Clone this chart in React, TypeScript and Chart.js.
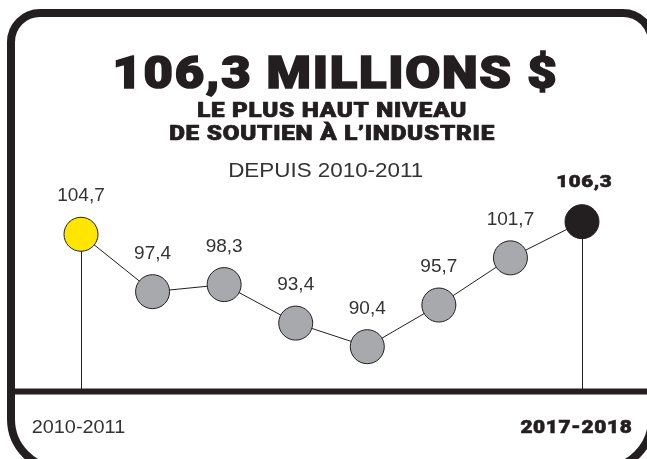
import React, { useEffect, useRef } from "react";
import { Chart, registerables } from "chart.js";

Chart.register(...registerables);

// ---- Data ----
const categories = [
  "2010-2011",
  "2011-2012",
  "2012-2013",
  "2013-2014",
  "2014-2015",
  "2015-2016",
  "2016-2017",
  "2017-2018",
];
const values = [104.7, 97.4, 98.3, 93.4, 90.4, 95.7, 101.7, 106.3];
const valueLabels = ["104,7", "97,4", "98,3", "93,4", "90,4", "95,7", "101,7", "106,3"];
const axisLabels = ["2010-2011", "2017-2018"];
const titleText = "106,3 MILLIONS $";
const subtitleLines = ["LE PLUS HAUT NIVEAU", "DE SOUTIEN À L’INDUSTRIE"];
const sinceText = "DEPUIS 2010-2011";
const yMin = 84.7;
const yMax = 120;

// ---- Styles ----
const INK = "#231f20";
const GRAY = "#a7a9ac";
const YELLOW = "#ffe500";
const HEAVY = "Roboto, 'Liberation Sans', sans-serif";
const REG = "'Liberation Sans', Arial, sans-serif";

function fitText(
  ctx: CanvasRenderingContext2D,
  text: string,
  x: number,
  y: number,
  font: string,
  width: number,
  align: CanvasTextAlign,
  color: string,
  boldStroke = 0,
  spacing = 0
) {
  ctx.save();
  ctx.font = font;
  (ctx as any).letterSpacing = `${spacing}px`;
  const w = ctx.measureText(text).width - spacing + boldStroke;
  const s = width / w;
  ctx.translate(x, y);
  ctx.scale(s, 1);
  ctx.textAlign = align;
  ctx.textBaseline = "alphabetic";
  ctx.fillStyle = color;
  const dx = align === "center" ? spacing / 2 : align === "right" ? spacing : 0;
  ctx.fillText(text, dx, 0);
  if (boldStroke > 0) {
    ctx.strokeStyle = color;
    ctx.lineWidth = boldStroke;
    ctx.lineJoin = "miter";
    ctx.strokeText(text, dx, 0);
  }
  ctx.restore();
}

function roundedFrame(ctx: CanvasRenderingContext2D) {
  const l = 11, t = 13, r = 652, b = 469;
  const rt = 29, rb = 50;
  ctx.save();
  ctx.beginPath();
  ctx.moveTo(l + rt, t);
  ctx.lineTo(r - rt, t);
  ctx.arcTo(r, t, r, t + rt, rt);
  ctx.lineTo(r, b - rb);
  ctx.arcTo(r, b, r - rb, b, rb);
  ctx.lineTo(l + rb, b);
  ctx.arcTo(l, b, l, b - rb, rb);
  ctx.lineTo(l, t + rt);
  ctx.arcTo(l, t, l + rt, t, rt);
  ctx.closePath();
  ctx.lineWidth = 8;
  ctx.strokeStyle = INK;
  ctx.stroke();
  ctx.restore();
}

const decoPlugin = {
  id: "deco",
  beforeDraw(chart: any) {
    const ctx = chart.ctx as CanvasRenderingContext2D;
    ctx.save();
    ctx.fillStyle = "#ffffff";
    ctx.fillRect(0, 0, chart.width, chart.height);
    ctx.restore();
  },
  beforeDatasetsDraw(chart: any) {
    const ctx = chart.ctx as CanvasRenderingContext2D;
    const meta = chart.getDatasetMeta(0);
    const yBase = chart.scales.y.getPixelForValue(yMin);
    ctx.save();
    ctx.strokeStyle = INK;
    ctx.lineWidth = 1;
    [0, values.length - 1].forEach((i) => {
      const p = meta.data[i];
      ctx.beginPath();
      ctx.moveTo(Math.round(p.x) + 0.5, p.y);
      ctx.lineTo(Math.round(p.x) + 0.5, yBase);
      ctx.stroke();
    });
    // thick baseline
    ctx.fillStyle = INK;
    ctx.fillRect(11, yBase - 3, chart.width - 11, 6);
    ctx.restore();
    roundedFrame(ctx);
  },
  afterDatasetsDraw(chart: any) {
    const ctx = chart.ctx as CanvasRenderingContext2D;
    const meta = chart.getDatasetMeta(0);
    meta.data.forEach((p: any, i: number) => {
      const last = i === values.length - 1;
      if (last) {
        fitText(ctx, valueLabels[i], p.x + 2, p.y - 34.5, `900 17px ${HEAVY}`, 56, "center", INK, 0.6, 0.5);
      } else {
        ctx.save();
        ctx.font = `19px ${REG}`;
        ctx.textAlign = "center";
        ctx.textBaseline = "alphabetic";
        ctx.fillStyle = "#333333";
        ctx.fillText(valueLabels[i], p.x, p.y - 33);
        ctx.restore();
      }
    });
  },
  afterDraw(chart: any) {
    const ctx = chart.ctx as CanvasRenderingContext2D;
    fitText(ctx, titleText, 334.5, 88, `900 45px ${HEAVY}`, 446, "center", INK, 1.6, 1.5);
    fitText(ctx, subtitleLines[0], 331.7, 117, `900 19.5px ${HEAVY}`, 270, "center", INK, 0.7, 0.6);
    fitText(ctx, subtitleLines[1], 331.7, 140, `900 19.5px ${HEAVY}`, 326, "center", INK, 0.7, 0.6);
    fitText(ctx, sinceText, 325.7, 176.7, `21px ${REG}`, 195, "center", "#333333");
    fitText(ctx, axisLabels[0], 31.7, 433.3, `19px ${REG}`, 93.5, "left", "#333333");
    fitText(ctx, axisLabels[1], 631.7, 433.3, `900 18.5px ${HEAVY}`, 112, "right", INK, 0.6, 0.6);
  },
};

export default function App() {
  const ref = useRef<HTMLCanvasElement | null>(null);
  useEffect(() => {
    if (!ref.current) return;
    const pointColors = values.map((_, i) =>
      i === 0 ? YELLOW : i === values.length - 1 ? INK : GRAY
    );
    const chart = new Chart(ref.current, {
      type: "line",
      data: {
        labels: categories,
        datasets: [
          {
            data: values,
            borderColor: INK,
            borderWidth: 1,
            tension: 0,
            pointRadius: 17,
            pointHoverRadius: 17,
            pointBackgroundColor: pointColors,
            pointBorderColor: INK,
            pointBorderWidth: 1,
            clip: false as any,
          },
        ],
      },
      options: {
        responsive: false,
        animation: false,
        devicePixelRatio: 1,
        events: [],
        layout: { padding: { left: 81, right: 65, top: 114, bottom: 67.5 } },
        plugins: {
          legend: { display: false },
          title: { display: false },
          tooltip: { enabled: false },
        },
        scales: {
          x: { type: "category", display: false, offset: false },
          y: { type: "linear", display: false, min: yMin, max: yMax },
        },
      },
      plugins: [decoPlugin],
    });
    return () => chart.destroy();
  }, []);
  return (
    <div style={{ position: "absolute", left: 0, top: 0, width: 647, height: 459 }}>
      <canvas ref={ref} width={647} height={459} style={{ width: 647, height: 459 }} />
    </div>
  );
}
